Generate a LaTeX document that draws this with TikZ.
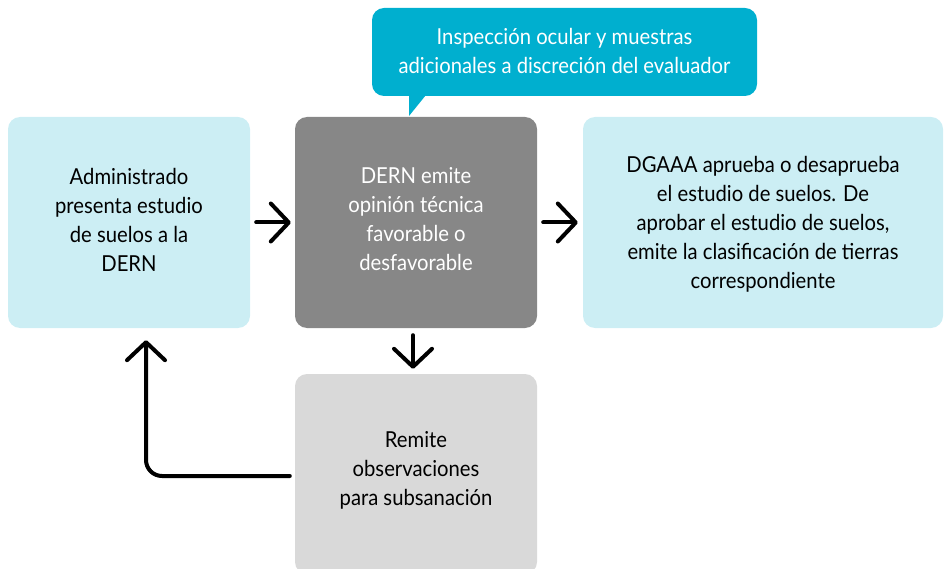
\documentclass[tikz,border=0pt]{standalone}
\usepackage{fontspec}
\setmainfont[FakeStretch=0.92]{Lato}
\usetikzlibrary{arrows.meta}
\definecolor{callc}{HTML}{00AFCF}
\definecolor{lightc}{HTML}{CCEEF4}
\definecolor{darkg}{HTML}{878787}
\definecolor{lightg}{HTML}{D9D9D9}
\tikzset{
  box/.style={rectangle, rounded corners=12pt, align=center, inner sep=0pt,
    font=\fontsize{22}{29}\selectfont, text depth=11pt},
  conn/.style={line width=4pt, line cap=round, line join=round,
    -{Straight Barb[length=18pt,width=38pt,line cap=round,line join=round]}}
}
\begin{document}
\begin{tikzpicture}[x=1pt,y=-1pt]
\useasboundingbox (0,0) rectangle (944,569);
% callout
\fill[callc] (409,90) -- (409,116) -- (430,90) -- cycle;
\node[box, fill=callc, text=white, minimum width=385pt, minimum height=88pt, text depth=3pt] (call) at (564.5,52)
  {Inspección ocular y muestras\\adicionales a discreción del evaluador};
% boxes
\node[box, fill=lightc, minimum width=242pt, minimum height=211pt, text depth=5pt] (b1) at (129,222.5)
  {Administrado\\presenta estudio\\de suelos a la\\DERN};
\node[box, fill=darkg, text=white, minimum width=242pt, minimum height=211pt, text depth=7pt] (b2) at (416,222.5)
  {DERN emite\\opinión técnica\\favorable o\\desfavorable};
\node[box, fill=lightc, minimum width=360pt, minimum height=211pt, text depth=-9pt] (b3) at (763,222.5)
  {DGAAA aprueba o desaprueba\\el estudio de suelos. De\\aprobar el estudio de suelos,\\emite la clasificación de tierras\\correspondiente};
\node[box, fill=lightg, minimum width=242pt, minimum height=200pt] (b4) at (416,474)
  {Remite\\observaciones\\para subsanación};
% connectors
\draw[conn, shorten <=6pt, shorten >=4pt] (b1.east) -- (b2.west);
\draw[conn, shorten <=6pt, shorten >=5pt] (b2.east) -- (b3.west);
\draw[conn, shorten <=7pt, shorten >=5pt] ([xshift=-3pt]b2.south) -- ([xshift=-3pt]b4.north);
\draw[conn, rounded corners=16pt, shorten <=5pt, shorten >=12pt] ([yshift=-2pt]b4.west) -| ([xshift=17pt]b1.south);
\end{tikzpicture}
\end{document}
